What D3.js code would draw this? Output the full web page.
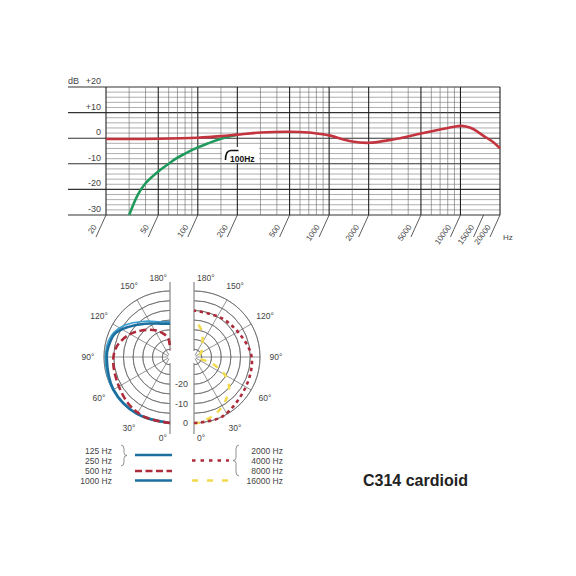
<!DOCTYPE html>
<html>
<head>
<meta charset="utf-8">
<script src="https://cdn.jsdelivr.net/npm/d3@7"></script>
<style>
  body { margin: 0; background: #fff; }
  text { font-family: "Liberation Sans", Arial, sans-serif; fill: #444; }
</style>
</head>
<body>
<script>
/* Data */

// Frequency response (red) and the 100 Hz cut (green), dB by Hz.
var respHz = [20, 50, 100, 150, 200, 300, 500, 700, 900, 1000, 1500, 2000, 3000, 5000, 7000, 9000, 10000, 11000, 12500, 15000, 17500, 20000];
var respDb = [-0.3, -0.2, 0.2, 0.8, 1.4, 2.2, 2.5, 2.2, 1.5, 1.1, -1.3, -1.8, -0.6, 1.8, 3.4, 4.5, 4.8, 4.6, 3.6, 0.9, -1.3, -3.9];
var cutHz = [30, 35, 40, 50, 60, 70, 80, 100, 120, 150, 180, 200];
var cutDb = [-30, -22, -17.6, -13, -10, -7.6, -6, -3.6, -2, -0.2, 0.9, 1.4];

// Grid and tick labels of the frequency chart.
var majorHz = [20, 50, 100, 200, 500, 1000, 2000, 5000, 10000, 20000];
var minorHz = [30, 40, 60, 70, 80, 90, 150, 300, 400, 600, 700, 800, 900, 1500, 3000, 4000, 6000, 7000, 8000, 9000];
var tickHz = [20, 50, 100, 200, 500, 1000, 2000, 5000, 10000, 15000, 20000];
var dbLabels = ["+20", "+10", "0", "-10", "-20", "-30"];
var dbValues = [20, 10, 0, -10, -20, -30];

// Polar patterns: angle (deg, 0 = front) and level (dB).
var lowDeg = [0, 30, 60, 90, 99, 113, 126, 143, 166, 180];          // 125 / 250 Hz
var lowDb = [0, -0.1, -0.4, -1.4, -1.8, -3.2, -7.6, -12.5, -16.3, -16.8];
var kiloDeg = [0, 30, 60, 90, 110, 125, 145, 165, 180];              // 1000 Hz
var kiloDb = [0, 0, 0, -0.7, -1.8, -5.5, -11.5, -15.2, -15.8];
var midDeg = [0, 23, 42, 66, 87, 101, 118, 133, 151, 164, 175, 180]; // 500 Hz
var midDb = [0, -0.5, -1.8, -4.0, -4.7, -6.0, -9.8, -14, -18.2, -21.5, -24.5, -30];
var highDeg = [0, 25, 60, 90, 115, 144, 180];                        // 2000 / 4000 / 8000 Hz
var highDb = [0, 0, -3.2, -4.3, -7.5, -9.4, -10];
var topDeg = [0, 4, 21, 36, 51, 61, 70, 90, 110, 128, 145, 162, 178, 180]; // 16000 Hz
var topDb = [0, 0, -2.7, -6.3, -10.8, -16.3, -24, -32.3, -31, -29, -26.6, -20.5, -15.1, -15];

var ringDb = [-30, -25, -20, -15, -10, -5, 0];
var spokeDeg = [30, 60, 90, 120, 150];
var polarLabels = ["30°", "60°", "90°", "120°", "150°"];
var ringLabels = ["-20", "-10", "0"];
var ringLabelDb = [-20, -10, 0];

var legendLeft = ["125 Hz", "250 Hz", "500 Hz", "1000 Hz"];
var legendRight = ["2000 Hz", "4000 Hz", "8000 Hz", "16000 Hz"];

//Colours.
var red = "#c3343e";
var darkRed = "#ad2b3b";
var green = "#1f9a5c";
var blueDark = "#1d6f9e";
var blueLight = "#3a9fcf";
var yellow = "#f2da4e";

var svg = d3.select("body").append("svg")
  .attr("width", 576)
  .attr("height", 576);

svg.append("rect").attr("width", 576).attr("height", 576).attr("fill", "#fff");

/* Frequency response chart */

var x = d3.scaleLog().domain([20, 20000]).range([106, 500]);
var y = d3.scaleLinear().domain([-30, 20]).range([215, 87]);

var fr = svg.append("g");

//Horizontal grid, every 2 dB, heavy every 10 dB.
fr.selectAll(".hgrid")
  .data(d3.range(-30, 21, 2))
  .enter().append("line")
  .attr("x1", function (d) { return d % 10 === 0 ? 68 : x(20); })
  .attr("x2", x(20000))
  .attr("y1", function (d) { return y(d); })
  .attr("y2", function (d) { return y(d); })
  .attr("stroke", function (d) { return d % 10 === 0 ? "#333" : "#777"; })
  .attr("stroke-width", function (d) { return d % 10 === 0 ? 1.1 : 0.6; });

//Vertical grid.
fr.selectAll(".minor")
  .data(minorHz)
  .enter().append("line")
  .attr("x1", function (d) { return x(d); })
  .attr("x2", function (d) { return x(d); })
  .attr("y1", y(20)).attr("y2", y(-30))
  .attr("stroke", "#666").attr("stroke-width", 0.6);

fr.selectAll(".major")
  .data(majorHz)
  .enter().append("line")
  .attr("x1", function (d) { return x(d); })
  .attr("x2", function (d) { return x(d); })
  .attr("y1", y(20)).attr("y2", y(-30))
  .attr("stroke", "#222").attr("stroke-width", 1.1);

//Slanted tick marks and labels under the grid.
fr.selectAll(".slash")
  .data(tickHz)
  .enter().append("line")
  .attr("x1", function (d) { return x(d); })
  .attr("y1", y(-30))
  .attr("x2", function (d) { return x(d) - 10; })
  .attr("y2", y(-30) + 22)
  .attr("stroke", "#333").attr("stroke-width", 0.8);

fr.selectAll(".xlab")
  .data(tickHz)
  .enter().append("text")
  .attr("transform", function (d) { return "translate(" + (x(d) - 9) + "," + (y(-30) + 12) + ") rotate(-55)"; })
  .attr("text-anchor", "end")
  .attr("font-size", 8)
  .text(function (d) { return d; });

fr.append("text").attr("x", 503).attr("y", 240).attr("font-size", 8).text("Hz");

//dB labels.
fr.selectAll(".ylab")
  .data(dbValues)
  .enter().append("text")
  .attr("x", 101)
  .attr("y", function (d) { return y(d) - 3; })
  .attr("text-anchor", "end")
  .attr("font-size", 9)
  .text(function (d, i) { return dbLabels[i]; });

fr.append("text").attr("x", 68).attr("y", y(20) - 3).attr("font-size", 9).text("dB");

//Curves.
var cutLine = d3.line()
  .x(function (d, i) { return x(cutHz[i]); })
  .y(function (d) { return y(d); })
  .curve(d3.curveCatmullRom);

var respLine = d3.line()
  .x(function (d, i) { return x(respHz[i]); })
  .y(function (d) { return y(d); })
  .curve(d3.curveCatmullRom);

fr.append("path").datum(cutDb)
  .attr("d", cutLine)
  .attr("fill", "none").attr("stroke", green).attr("stroke-width", 2.6);

fr.append("path").datum(respDb)
  .attr("d", respLine)
  .attr("fill", "none").attr("stroke", red).attr("stroke-width", 2.6);

//"100Hz" high-pass note.
fr.append("rect").attr("x", 222).attr("y", 147).attr("width", 37).attr("height", 16).attr("fill", "#fff");
fr.append("path")
  .attr("d", "M225.5,160 C225.5,154 227,150.5 231,150.5 L238.5,150.5")
  .attr("fill", "none").attr("stroke", "#111").attr("stroke-width", 1.6);
fr.append("text").attr("x", 230).attr("y", 162).attr("font-size", 8.5)
  .attr("font-weight", "bold").style("fill", "#111").text("100Hz");

/* Polar patterns */

var r = d3.scaleLinear().domain([-34, 0]).range([0, 66]);
var cy = 357;

function drawPolar(cx, side, series) {
  var g = svg.append("g").attr("transform", "translate(" + cx + "," + cy + ")");
  var start = side > 0 ? 0 : Math.PI;

  g.selectAll(".ring")
    .data(ringDb)
    .enter().append("path")
    .attr("d", function (d) {
      return d3.arc().innerRadius(r(d)).outerRadius(r(d)).startAngle(start).endAngle(start + Math.PI)();
    })
    .attr("fill", "none").attr("stroke", "#666").attr("stroke-width", 0.7);

  g.selectAll(".spoke")
    .data(spokeDeg)
    .enter().append("line")
    .each(function (d) {
      var a = Math.PI - side * d * Math.PI / 180;
      var p0 = d3.pointRadial(a, 2), p1 = d3.pointRadial(a, r(0));
      d3.select(this).attr("x1", p0[0]).attr("y1", p0[1]).attr("x2", p1[0]).attr("y2", p1[1]);
    })
    .attr("stroke", "#666").attr("stroke-width", 0.7);

  //Centre line, broken at the centre.
  g.append("line").attr("x1", 0).attr("x2", 0).attr("y1", -75).attr("y2", -6)
    .attr("stroke", "#888").attr("stroke-width", 1.2);
  g.append("line").attr("x1", 0).attr("x2", 0).attr("y1", 6).attr("y2", 77)
    .attr("stroke", "#888").attr("stroke-width", 1.2);

  //Angle labels.
  g.selectAll(".alab")
    .data(spokeDeg)
    .enter().append("text")
    .attr("x", function (d) { return d3.pointRadial(Math.PI - side * d * Math.PI / 180, 82)[0]; })
    .attr("y", function (d) { return d3.pointRadial(Math.PI - side * d * Math.PI / 180, 82)[1] + 3; })
    .attr("text-anchor", "middle")
    .attr("font-size", 8.5)
    .text(function (d, i) { return polarLabels[i]; });

  g.append("text").attr("x", side * 3).attr("y", -76)
    .attr("text-anchor", side > 0 ? "start" : "end").attr("font-size", 8.5).text("180°");
  g.append("text").attr("x", side * 3).attr("y", 84)
    .attr("text-anchor", side > 0 ? "start" : "end").attr("font-size", 8.5).text("0°");

  var radial = d3.lineRadial()
    .angle(function (d) { return Math.PI - side * d[0] * Math.PI / 180; })
    .radius(function (d) { return r(d[1]); })
    .curve(d3.curveCatmullRom);

  series.forEach(function (s) {
    g.append("path")
      .datum(d3.zip(s.deg, s.db))
      .attr("d", radial)
      .attr("fill", "none")
      .attr("stroke", s.color)
      .attr("stroke-width", s.width)
      .attr("stroke-dasharray", s.dash || null);
  });
}

drawPolar(170, -1, [
  { deg: kiloDeg, db: kiloDb, color: blueLight, width: 1.6 },
  { deg: lowDeg, db: lowDb, color: blueDark, width: 2.6 },
  { deg: midDeg, db: midDb, color: darkRed, width: 2.6, dash: "7,3.5" }
]);

drawPolar(194, 1, [
  { deg: topDeg, db: topDb, color: yellow, width: 2.6, dash: "6,7" },
  { deg: highDeg, db: highDb, color: darkRed, width: 2.6, dash: "3.5,3.5" }
]);

//dB labels between the halves.
svg.selectAll(".rlab")
  .data(ringLabelDb)
  .enter().append("text")
  .attr("x", 188)
  .attr("y", function (d) { return cy + r(d) + 3; })
  .attr("text-anchor", "end")
  .attr("font-size", 9)
  .text(function (d, i) { return ringLabels[i]; });

/* Legend */

var legRows = [451, 461, 471, 481];

svg.selectAll(".legl")
  .data(legendLeft)
  .enter().append("text")
  .attr("x", 112)
  .attr("y", function (d, i) { return legRows[i] + 3; })
  .attr("text-anchor", "end")
  .attr("font-size", 8.5)
  .text(function (d) { return d; });

svg.selectAll(".legr")
  .data(legendRight)
  .enter().append("text")
  .attr("x", 283)
  .attr("y", function (d, i) { return legRows[i] + 3; })
  .attr("text-anchor", "end")
  .attr("font-size", 8.5)
  .text(function (d) { return d; });

var legLines = [
  { x1: 135, x2: 172, y: 455, color: blueDark, dash: null },
  { x1: 135, x2: 172, y: 471, color: darkRed, dash: "7,3.5" },
  { x1: 135, x2: 172, y: 480.5, color: blueDark, dash: null },
  { x1: 192, x2: 229, y: 460.5, color: darkRed, dash: "3.5,5" },
  { x1: 192, x2: 229, y: 480.5, color: yellow, dash: "6,9" }
];

svg.selectAll(".legline")
  .data(legLines)
  .enter().append("line")
  .attr("x1", function (d) { return d.x1; })
  .attr("x2", function (d) { return d.x2; })
  .attr("y1", function (d) { return d.y; })
  .attr("y2", function (d) { return d.y; })
  .attr("stroke", function (d) { return d.color; })
  .attr("stroke-width", 2.6)
  .attr("stroke-dasharray", function (d) { return d.dash; });

//Braces.
function brace(bx, y0, y1, dir) {
  var m = (y0 + y1) / 2, w = 3 * dir;
  return "M" + bx + "," + y0 +
    " Q" + (bx + w) + "," + y0 + " " + (bx + w) + "," + (y0 + 4) +
    " L" + (bx + w) + "," + (m - 3) +
    " Q" + (bx + w) + "," + m + " " + (bx + 2 * w) + "," + m +
    " Q" + (bx + w) + "," + m + " " + (bx + w) + "," + (m + 3) +
    " L" + (bx + w) + "," + (y1 - 4) +
    " Q" + (bx + w) + "," + y1 + " " + bx + "," + y1;
}

svg.append("path").attr("d", brace(121, 445, 466, 1))
  .attr("fill", "none").attr("stroke", "#777").attr("stroke-width", 0.8);
svg.append("path").attr("d", brace(239, 445, 476, -1))
  .attr("fill", "none").attr("stroke", "#777").attr("stroke-width", 0.8);

svg.append("text")
  .attr("x", 363).attr("y", 486)
  .attr("font-size", 16).attr("font-weight", "bold")
  .style("fill", "#222")
  .text("C314 cardioid");
</script>
</body>
</html>
